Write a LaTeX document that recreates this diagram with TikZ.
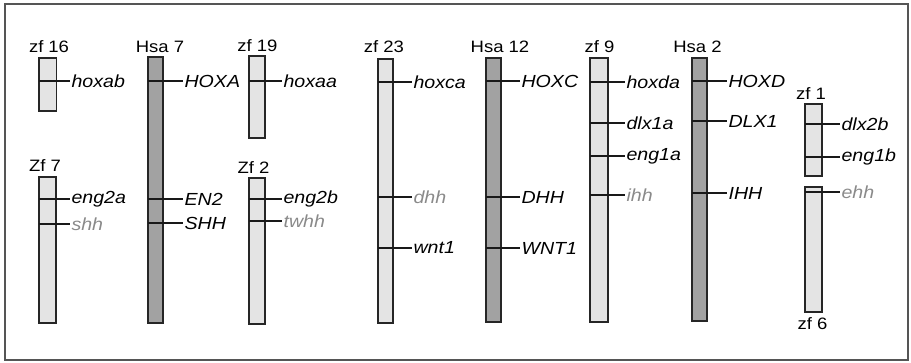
\documentclass[tikz,border=0pt]{standalone}
\usepackage{fontspec}
\setmainfont{Liberation Sans}[FakeStretch=1.12]
\definecolor{zfgray}{HTML}{E4E4E4}
\definecolor{hsagray}{HTML}{A2A2A2}
\definecolor{genegraytext}{HTML}{8A8A8A}
\definecolor{framegray}{HTML}{555555}
\begin{document}
\begin{tikzpicture}[x=1pt,y=-1pt,
  frame/.style={draw=framegray,line width=1.6pt},
  zfchr/.style={draw=black!85,fill=zfgray,line width=1.2pt},
  hsachr/.style={draw=black!85,fill=hsagray,line width=1.2pt},
  band/.style={draw=black!90,line width=1.1pt},
  gene/.style={anchor=west,inner sep=1pt,font=\itshape\fontsize{17.5}{17.5}\selectfont},
  genegray/.style={gene,text=genegraytext},
  chrlab/.style={anchor=base,inner sep=0pt,font=\fontsize{16.5}{16.5}\selectfont}]
\useasboundingbox (0,0) rectangle (911,363);
\draw[frame] (5,4) rectangle (908,360);

% zf 16
\draw[zfchr] (39,58) rectangle (56.5,111);
\node[chrlab] (l-zf16) at (49,53) {zf\hspace{5pt}16};
\draw[band] (39,81) -- (70,81) node[gene] (g-hoxab) {hoxab};

% Hsa 7
\draw[hsachr] (148,57) rectangle (163,323);
\node[chrlab] (l-hsa7) at (160,53) {Hsa 7};
\draw[band] (148,81) -- (183,81) node[gene] (g-HOXA) {HOXA};
\draw[band] (148,199) -- (183,199) node[gene] (g-EN2) {EN2};
\draw[band] (148,223) -- (183,223) node[gene] (g-SHH) {SHH};

% Zf 7
\draw[zfchr] (39,177) rectangle (56,323);
\node[chrlab] (l-zf7) at (45,172) {Zf 7};
\draw[band] (39,199) -- (70,199) node[gene] (g-eng2a) {eng2a};
\draw[band] (39,224) -- (70,224) node[genegray] (g-shh) {shh};

% zf 19
\draw[zfchr] (249,56) rectangle (265,138);
\node[chrlab] (l-zf19) at (257.5,52) {zf 19};
\draw[band] (249,81) -- (282,81) node[gene] (g-hoxaa) {hoxaa};

% Zf 2
\draw[zfchr] (249,178) rectangle (265,324);
\node[chrlab] (l-zf2) at (253.5,173.5) {Zf 2};
\draw[band] (249,199) -- (282,199) node[gene] (g-eng2b) {eng2b};
\draw[band] (249,221) -- (282,221) node[genegray] (g-twhh) {twhh};

% zf 23
\draw[zfchr] (378,59) rectangle (393,323);
\node[chrlab] (l-zf23) at (384,53) {zf 23};
\draw[band] (378,82) -- (412,82) node[gene] (g-hoxca) {hoxca};
\draw[band] (378,197) -- (412,197) node[genegray] (g-dhh) {dhh};
\draw[band] (378,248) -- (412,248) node[gene] (g-wnt1) {wnt1};

% Hsa 12
\draw[hsachr] (486,58) rectangle (501,322);
\node[chrlab] (l-hsa12) at (500,53) {Hsa 12};
\draw[band] (486,81) -- (520,81) node[gene] (g-HOXC) {HOXC};
\draw[band] (486,197) -- (520,197) node[gene] (g-DHH) {DHH};
\draw[band] (486,248) -- (520,248) node[gene] (g-WNT1) {WNT1};

% zf 9
\draw[zfchr] (590,58) rectangle (608,322);
\node[chrlab] (l-zf9) at (599.5,53) {zf 9};
\draw[band] (590,82) -- (625,82) node[gene] (g-hoxda) {hoxda};
\draw[band] (590,123) -- (625,123) node[gene] (g-dlx1a) {dlx1a};
\draw[band] (590,156) -- (625,156) node[gene] (g-eng1a) {eng1a};
\draw[band] (590,195) -- (625,195) node[genegray] (g-ihh) {ihh};

% Hsa 2
\draw[hsachr] (692,58) rectangle (707,321);
\node[chrlab] (l-hsa2) at (697.5,53) {Hsa 2};
\draw[band] (692,81) -- (727,81) node[gene] (g-HOXD) {HOXD};
\draw[band] (692,121) -- (727,121) node[gene] (g-DLX1) {DLX1};
\draw[band] (692,193) -- (727,193) node[gene] (g-IHH) {IHH};

% zf 1
\draw[zfchr] (805,104) rectangle (822,176);
\node[chrlab] (l-zf1) at (811,99.5) {zf 1};
\draw[band] (805,124) -- (840,124) node[gene] (g-dlx2b) {dlx2b};
\draw[band] (805,157) -- (840,157) node[gene] (g-eng1b) {eng1b};

% zf 6
\draw[zfchr] (805,187) rectangle (822,312);
\node[chrlab] (l-zf6) at (812.5,329.5) {zf 6};
\draw[band] (805,192) -- (840,192) node[genegray] (g-ehh) {ehh};
\end{tikzpicture}
\end{document}
